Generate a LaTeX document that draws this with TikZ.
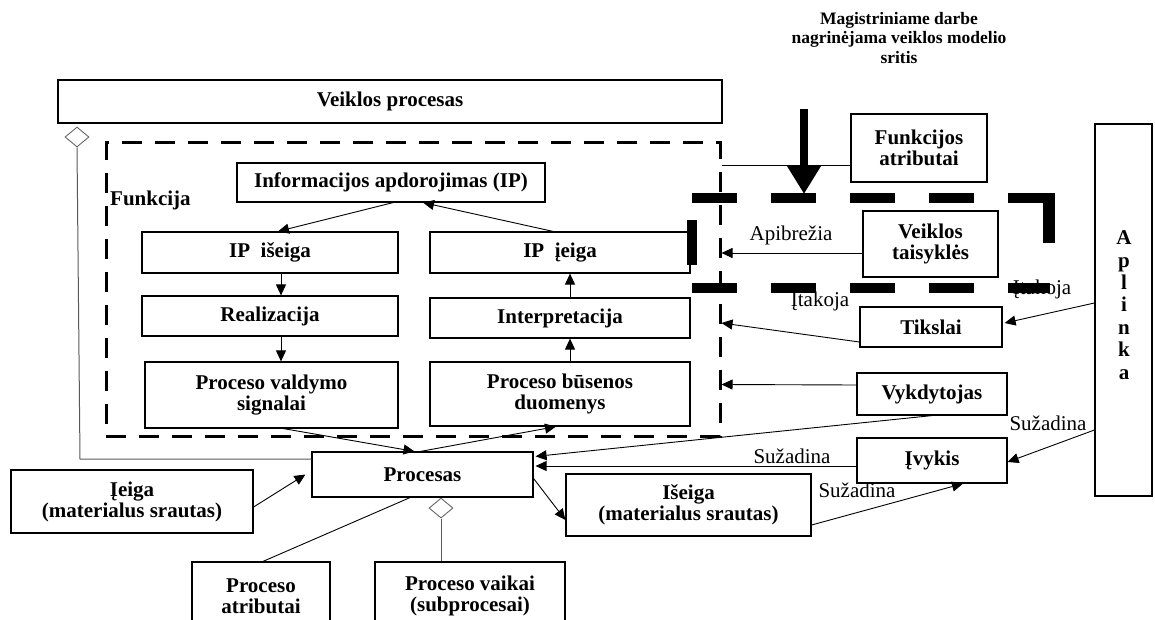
\documentclass[tikz,border=0pt]{standalone}
\usepackage{fontspec}
\setmainfont{Liberation Serif}
\usetikzlibrary{arrows.meta,shapes.geometric,calc}
\begin{document}
\begin{tikzpicture}[x=1pt,y=-1pt,
  sz/.style 2 args={minimum width=#1pt,minimum height=#2pt},
  box/.style={draw,line width=1.2pt,inner sep=0pt,align=center,
    font=\fontsize{21}{21}\selectfont\bfseries},
  bold/.style={inner sep=0pt,align=center,font=\fontsize{21}{21}\selectfont\bfseries},
  lbl/.style={inner sep=0pt,font=\fontsize{21}{21}\selectfont},
  conn/.style={line width=0.9pt},
  arr/.style={conn,-{Triangle[length=11pt,width=10pt]}},
  agg/.style={diamond,draw=gray!80!black,line width=0.9pt,fill=white,
    inner sep=0pt,minimum width=24pt,minimum height=20pt},
  aggline/.style={draw=gray!70!black,line width=1pt},
  fence/.style={line width=10pt,dash pattern=on 45pt off 34pt},
  funframe/.style={draw,line width=3pt,dash pattern=on 20pt off 13pt,inner sep=0pt}
]
\useasboundingbox (0,0) rectangle (1155,620);

% heading of the studied area
\node[bold,font=\fontsize{17.5}{19.5}\selectfont\bfseries] (title) at (899,38)
  {Magistriniame darbe\\nagrinėjama veiklos modelio\\sritis};

% business process and its function
\node[box,sz={664}{43}] (vp) at (390,101.5) {Veiklos procesas};
\node[funframe,sz={614}{293}] (fun) at (413,289.5) {};
\node[bold,anchor=west] (funlbl) at (110,200) {Funkcija};

\node[box,sz={308}{39}] (ip) at (391,182.5) {Informacijos apdorojimas (IP)};
\node[box,sz={256}{41}] (ipo) at (270,252.5) {IP~~išeiga};
\node[box,sz={260}{41}] (ipi) at (560,252.5) {IP~~įeiga};
\node[box,sz={256}{40}] (real) at (270,316) {Realizacija};
\node[box,sz={260}{40}] (interp) at (560,318) {Interpretacija};
\node[box,sz={253}{66}] (pvs) at (271.5,395) {Proceso valdymo\\signalai};
\node[box,sz={260}{64}] (pbd) at (560,394) {Proceso būsenos\\duomenys};

% surrounding elements
\node[box,sz={136}{68}] (fa) at (919,148) {Funkcijos\\atributai};
\node[box,sz={57}{372}] (apl) at (1123.5,310) {};
\node[bold,font=\fontsize{21}{22.4}\selectfont\bfseries] (apltxt) at (1124,305)
  {A\\p\\l\\i\\n\\k\\a};
\node[box,sz={135}{66}] (vt) at (930.5,244) {Veiklos\\taisyklės};
\node[box,sz={142}{40}] (tik) at (931,327) {Tikslai};
\node[box,sz={150}{42}] (vyk) at (932,394) {Vykdytojas};
\node[box,sz={150}{45}] (ivy) at (932,460.5) {Įvykis};

\node[box,sz={221}{45}] (proc) at (422.5,474.5) {Procesas};
\node[box,sz={242}{63}] (ieg) at (132,501.5) {Įeiga\\(materialus srautas)};
\node[box,sz={245}{62}] (iseg) at (688.5,505) {Išeiga\\(materialus srautas)};
\node[box,sz={138}{68}] (pa) at (261,596) {Proceso\\atributai};
\node[box,sz={190}{68}] (pv) at (470,596) {Proceso vaikai\\(subprocesai)};

% information processing cycle
\draw[arr] ($(ip.south)+(2,0)$) -- ($(ipo.north)+(8,0)$);
\draw[arr] ($(ipi.north)+(-7,0)$) -- ($(ip.south)+(32,0)$);
\draw[arr] ($(ipo.south)+(11,0)$) -- ($(real.north)+(11,0)$);
\draw[arr] ($(real.south)+(11,0)$) -- ($(pvs.north)+(9.5,0)$);
\draw[arr] ($(pbd.north)+(10,0)$) -- ($(interp.south)+(10,0)$);
\draw[arr] ($(interp.north)+(10,0)$) -- ($(ipi.south)+(10,0)$);
\draw[arr] ($(pvs.south)+(12,0)$) -- ($(proc.north)+(-8,0)$);
\draw[arr] ($(proc.north)+(-2,0)$) -- ($(pbd.south)+(-4,0)$);

% aggregation of the process
\node[agg] (dm1) at (77,137) {};
\coordinate (bend) at (80,459);
\draw[aggline] (dm1.south) -- (bend) -- (bend -| proc.west);
\node[agg,anchor=north] (dm2) at ($(proc.south)+(18.5,0)$) {};
\draw[aggline] (dm2.south) -- (dm2.south |- pv.north);
\draw[conn] ($(proc.south)+(-12.5,0)$) -- ($(pa.north)+(2,0)$);

% inputs, outputs and events
\draw[arr] ($(ieg.east)+(0,5.5)$) -- ($(proc.west)+(-6,0)$);
\draw[arr] ($(proc.east)+(0,4)$) -- ($(iseg.west)+(0,15)$);
\draw[arr] ($(iseg.east)+(0,20)$) -- ($(ivy.south)+(31,0)$);
\node[lbl] (s3) at (857,490) {Sužadina};
\draw[arr] (vyk.south) -- ($(proc.north east)+(2,5)$);
\draw[arr] ($(ivy.west)+(0,5.5)$) -- ($(proc.east)+(2,-8.5)$);
\node[lbl] (s2) at (792,456) {Sužadina};
\draw[arr] ($(apl.west)+(0,120)$) -- ($(ivy.east)+(0,1.5)$);
\node[lbl] (s1) at (1048,423) {Sužadina};

% influences on the function
\draw[conn] ($(fa.west)+(0,17)$) -- ($(fun.east)+(0,-124.5)$);
\draw[arr] ($(vt.west)+(0,9)$) -- ($(fun.east)+(0,-36.5)$);
\node[lbl] (apib) at (791,235) {Apibrežia};
\draw[arr] ($(tik.west)+(0,15)$) -- ($(fun.east)+(0,33.5)$);
\node[lbl] (it1) at (820,301) {Įtakoja};
\draw[arr] ($(apl.west)+(0,-7)$) -- ($(tik.east)+(2,-4)$);
\node[lbl] (it2) at (1042,289) {Įtakoja};
\draw[arr] ($(vyk.west)+(0,-9)$) -- ($(fun.east)+(0,95)$);

% studied area frame and pointer
\coordinate (ftl) at (692,198);
\coordinate (ftr) at (1055,198);
\coordinate (fbl) at (692,288);
\coordinate (fbr) at (1050,288);
\draw[fence] (ftl) -- (ftr);
\draw[fence] (fbl) -- (fbr);
\draw[line width=12pt] (1049,193) -- (1049,243);
\draw[line width=10pt] (692,220) -- (692,265);
\coordinate (mtop) at (804,109);
\coordinate (mtip) at (804,194);
\draw[line width=8pt,-{Triangle[length=28pt,width=32pt]}] (mtop) -- (mtip);
\end{tikzpicture}
\end{document}
